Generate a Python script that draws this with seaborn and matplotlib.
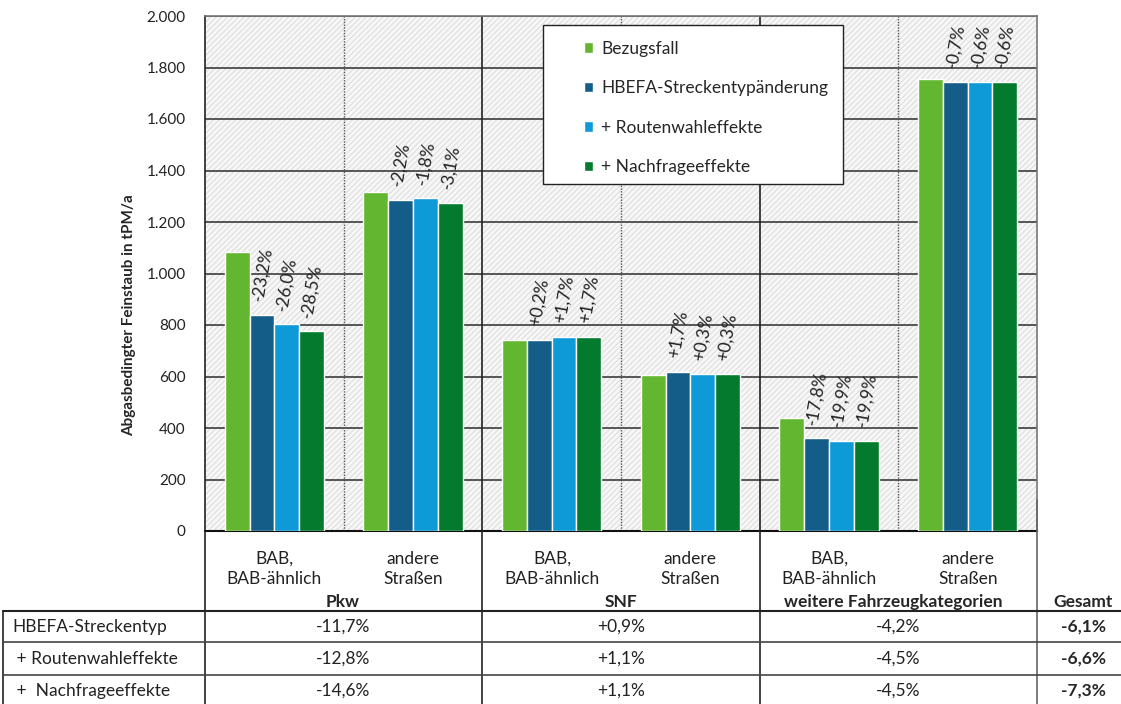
import numpy as np
import pandas as pd
import seaborn as sns
import matplotlib.pyplot as plt
from matplotlib.patches import Rectangle
from matplotlib.lines import Line2D
from matplotlib.ticker import FuncFormatter

# data
categories = ["Pkw BAB", "Pkw andere", "SNF BAB", "SNF andere", "weitere BAB", "weitere andere"]
cat_labels = ["BAB,\nBAB-ähnlich", "andere\nStraßen"] * 3
groups = ["Pkw", "SNF", "weitere Fahrzeugkategorien"]

series = ["Bezugsfall", "HBEFA-Streckentypänderung", "+ Routenwahleffekte", "+ Nachfrageeffekte"]
bezugsfall = [1085, 1316, 741, 607, 438, 1756]
hbefa = [839, 1287, 742, 618, 360, 1744]
routen = [803, 1292, 753, 609, 351, 1745]
nachfrage = [776, 1275, 753, 609, 351, 1745]

pct_hbefa = ["-23,2%", "-2,2%", "+0,2%", "+1,7%", "-17,8%", "-0,7%"]
pct_routen = ["-26,0%", "-1,8%", "+1,7%", "+0,3%", "-19,9%", "-0,6%"]
pct_nachfrage = ["-28,5%", "-3,1%", "+1,7%", "+0,3%", "-19,9%", "-0,6%"]

row_labels = ["HBEFA-Streckentyp", " + Routenwahleffekte", " +  Nachfrageeffekte"]
tab_pkw = ["-11,7%", "-12,8%", "-14,6%"]
tab_snf = ["+0,9%", "+1,1%", "+1,1%"]
tab_weitere = ["-4,2%", "-4,5%", "-4,5%"]
tab_gesamt = ["-6,1%", "-6,6%", "-7,3%"]

colors = ["#63b730", "#155d89", "#0d9ad6", "#037a2d"]

df = pd.DataFrame({
    "cat": categories * 4,
    "serie": np.repeat(series, len(categories)),
    "wert": bezugsfall + hbefa + routen + nachfrage,
})

sns.set_style("white")
plt.rcParams['font.family'] = ['Lato', 'DejaVu Sans']
plt.rcParams['hatch.linewidth'] = 0.8

FS = 12.5
W, H = 1121, 704
fig = plt.figure(figsize=(W / 100, H / 100), dpi=100)
fx = lambda px: px / W
fy = lambda py: 1 - py / H

ax = fig.add_axes([fx(205), fy(531), fx(1037) - fx(205), fy(16) - fy(531)])

# hatched background
ax.add_patch(Rectangle((0, 0), 1, 1, transform=ax.transAxes, facecolor="#f7f7f7",
                       edgecolor="#dedede", hatch="//////", lw=0, zorder=0))

sns.barplot(data=df, x="cat", y="wert", hue="serie", palette=colors, width=0.715,
            saturation=1, ax=ax, legend=True, zorder=3)

ax.set_xlim(-0.5, 5.5)
ax.set_ylim(0, 2000)
ax.set_yticks(np.arange(0, 2001, 200))
ax.yaxis.set_major_formatter(FuncFormatter(lambda v, p: f"{int(v):,}".replace(",", ".")))
ax.tick_params(axis="y", length=0, pad=14, labelsize=11, labelcolor="#222222")
ax.set_xticks([])
ax.set_xlabel("")
ax.set_ylabel("Abgasbedingter Feinstaub in tPM/a", fontsize=11, fontweight="bold")
ax.yaxis.set_label_coords(-0.083, 0.42)

for y in np.arange(200, 2001, 200):
    ax.axhline(y, color="#3c3c3c", lw=1.2, zorder=1)
for xb in [0.5, 2.5, 4.5]:
    ax.axvline(xb, color="#555555", lw=1.0, ls=(0, (1, 1)), zorder=1)
for xb in [1.5, 3.5]:
    ax.axvline(xb, color="#222222", lw=1.2, zorder=1)

for side in ["top", "right"]:
    ax.spines[side].set_color("#777777")
    ax.spines[side].set_linewidth(1.2)
ax.spines["left"].set_color("#222222")
ax.spines["bottom"].set_color("#111111")
ax.spines["left"].set_linewidth(1.2)
ax.spines["bottom"].set_linewidth(1.5)

# percent labels above the scenario bars
for cont, labels in zip(ax.containers[1:], [pct_hbefa, pct_routen, pct_nachfrage]):
    for bar, txt in zip(cont, labels):
        ax.annotate(txt, (bar.get_x() + bar.get_width() / 2, bar.get_height()),
                    xytext=(0, 9), textcoords="offset points", ha="center", va="bottom",
                    rotation=80, fontsize=FS, color="#222222", zorder=4)

# legend with its own frame
handles, labels = ax.get_legend_handles_labels()
ax.legend_.remove()
fig.add_artist(Rectangle((fx(543), fy(184)), fx(843) - fx(543), fy(25) - fy(184),
                         transform=fig.transFigure, facecolor="white", edgecolor="#222222",
                         lw=1.0, zorder=5))
leg = fig.legend(handles, labels, loc="upper left", bbox_to_anchor=(fx(575), fy(32)),
                 frameon=False, fontsize=FS, labelspacing=1.35, handlelength=0.55,
                 handleheight=0.55, handletextpad=0.45, borderpad=0)
leg.set_zorder(6)

# category box below the axis and table
def vline(x, y0, y1, lw=1.2, c="#222222"):
    fig.add_artist(Line2D([fx(x), fx(x)], [fy(y0), fy(y1)], transform=fig.transFigure, color=c, lw=lw))

def hline(y, x0, x1, lw=1.2, c="#222222"):
    fig.add_artist(Line2D([fx(x0), fx(x1)], [fy(y), fy(y)], transform=fig.transFigure, color=c, lw=lw))

for x in [205, 482, 760]:
    vline(x, 531, 704)
vline(1037, 500, 704, c="#666666")
vline(3, 611, 704)
hline(611, 3, W, lw=1.5)
for y in [642, 675]:
    hline(y, 3, W, c="#444444")

cat_centers = [274, 413, 552, 690, 829, 968]
for cx, lab in zip(cat_centers, cat_labels):
    fig.text(fx(cx), fy(569), lab, ha="center", va="center", fontsize=FS,
             color="#222222", linespacing=1.3)

group_centers = [343, 621, 893]
for gx, g in zip(group_centers, groups):
    fig.text(fx(gx), fy(602), g, ha="center", va="center", fontsize=FS, fontweight="bold")
fig.text(fx(1083), fy(602), "Gesamt", ha="center", va="center", fontsize=FS, fontweight="bold")

row_y = [627, 659, 691]
for i, ry in enumerate(row_y):
    fig.text(fx(12), fy(ry), row_labels[i], ha="left", va="center", fontsize=FS, color="#222222")
    for gx, col in zip([343, 621, 898], [tab_pkw, tab_snf, tab_weitere]):
        fig.text(fx(gx), fy(ry), col[i], ha="center", va="center", fontsize=FS, color="#222222")
    fig.text(fx(1083), fy(ry), tab_gesamt[i], ha="center", va="center", fontsize=FS,
             fontweight="bold")

fig.savefig("out.png", dpi=100)
